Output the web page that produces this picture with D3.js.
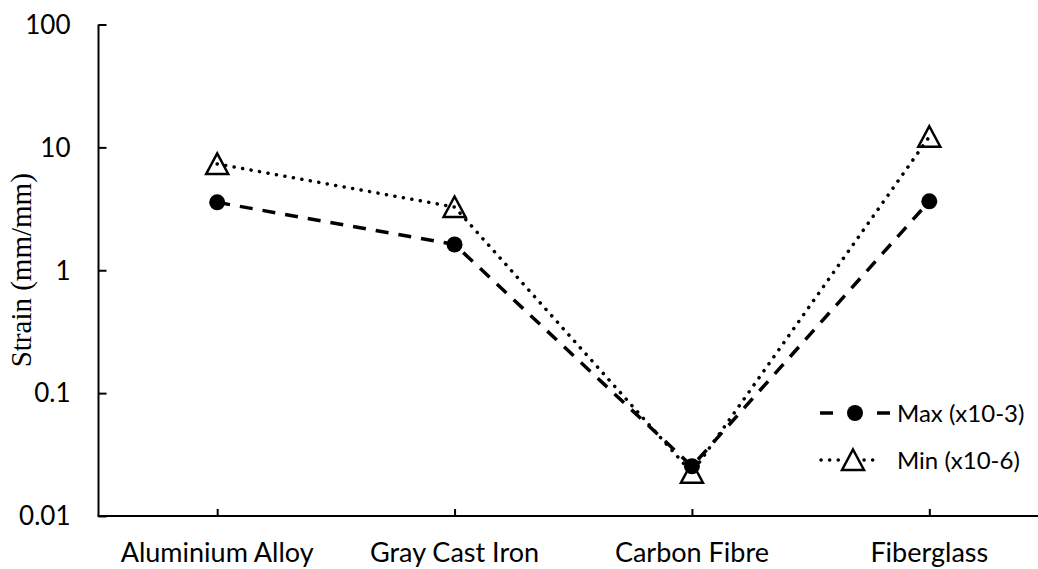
<!DOCTYPE html>
<html>
<head>
<meta charset="utf-8">
<script src="https://cdn.jsdelivr.net/npm/d3@7"></script>
<style>
  body { margin: 0; background: #fff; }
  svg text { font-family: Lato, "Open Sans", sans-serif; fill: #000; }
</style>
</head>
<body>
<svg id="chart"></svg>
<script>
// data
const materials = ['Aluminium Alloy', 'Gray Cast Iron', 'Carbon Fibre', 'Fiberglass'];
const maxStrain = [3.57, 1.62, 0.0254, 3.64];   // x10-3
const minStrain = [7.33, 3.27, 0.0225, 12.2];   // x10-6
const yTicks = [0.01, 0.1, 1, 10, 100];
const seriesNames = ['Max (x10-3)', 'Min (x10-6)'];

const width = 1038, height = 569;
const padding = {top: 24.5, right: -10, bottom: 53, left: 98.5};

const svg = d3.select('#chart')
    .attr('width', width)
    .attr('height', height);

const xScale = d3.scalePoint()
    .domain(materials)
    .range([padding.left, width - padding.right])
    .padding(0.5);

const yScale = d3.scaleLog()
    .domain([0.01, 100])
    .range([height - padding.bottom, padding.top]);

const fmt = d => d >= 1 ? d3.format('d')(d) : String(d);

// y axis: ticks pointing into the plot
const yAxis = d3.axisRight(yScale)
    .tickValues(yTicks)
    .tickSize(8)
    .tickFormat('');
const gy = svg.append('g')
    .attr('transform', `translate(${padding.left}, 0)`)
    .call(yAxis);
gy.select('.domain').attr('d', `M0,${yScale(100)}V${yScale(0.01)}`);
gy.selectAll('line, path').attr('stroke', '#000').attr('stroke-width', 2);

gy.selectAll('.lbl')
    .data(yTicks)
    .enter()
    .append('text')
    .attr('x', -28)
    .attr('y', d => yScale(d))
    .attr('dy', '0.36em')
    .attr('text-anchor', 'end')
    .style('font-size', '26px')
    .text(fmt);

// x axis: ticks pointing up
const xAxis = d3.axisTop(xScale).tickSize(7).tickFormat('');
const gx = svg.append('g')
    .attr('transform', `translate(0, ${height - padding.bottom})`)
    .call(xAxis);
gx.select('.domain').attr('d', `M${padding.left - 1},0H${width}`);
gx.selectAll('line, path').attr('stroke', '#000').attr('stroke-width', 2);

gx.selectAll('.lbl')
    .data(materials)
    .enter()
    .append('text')
    .attr('x', d => xScale(d))
    .attr('y', 46)
    .attr('text-anchor', 'middle')
    .style('font-size', '27px')
    .text(d => d);

// axis title, sized to its length in the picture
const title = svg.append('text')
    .attr('transform', `translate(31, ${(yScale(100) + yScale(0.01)) / 2}) rotate(-90)`)
    .attr('text-anchor', 'middle')
    .style('font-family', '"Liberation Serif", "DejaVu Serif", serif')
    .style('font-size', '20px')
    .text('Strain (mm/mm)');
const tl = title.node().getComputedTextLength();
if (tl > 0) title.style('font-size', (20 * 194 / tl).toFixed(1) + 'px');

const line = d3.line()
    .x((d, i) => xScale(materials[i]))
    .y(d => yScale(d));

function triPath(cx, cy) {
    const p = d3.path();
    p.moveTo(cx, cy - 10.5);
    p.lineTo(cx + 11, cy + 10);
    p.lineTo(cx - 11, cy + 10);
    p.closePath();
    return p.toString();
}

// min series (dotted, open triangles)
svg.append('path')
    .datum(minStrain)
    .attr('d', line)
    .attr('fill', 'none')
    .attr('stroke', '#000')
    .attr('stroke-width', 3.5)
    .attr('stroke-linecap', 'round')
    .attr('stroke-dasharray', '0.1,8.5');

svg.selectAll('.tri')
    .data(minStrain)
    .enter()
    .append('path')
    .attr('d', (d, i) => triPath(xScale(materials[i]), yScale(d)))
    .attr('fill', 'none')
    .attr('stroke', '#000')
    .attr('stroke-width', 2.5);

// max series (dashed, filled circles)
svg.append('path')
    .datum(maxStrain)
    .attr('d', line)
    .attr('fill', 'none')
    .attr('stroke', '#000')
    .attr('stroke-width', 3.5)
    .attr('stroke-dasharray', '13,10');

svg.selectAll('.dot')
    .data(maxStrain)
    .enter()
    .append('circle')
    .attr('cx', (d, i) => xScale(materials[i]))
    .attr('cy', d => yScale(d))
    .attr('r', 8)
    .attr('fill', '#000');

// legend
const legend = svg.append('g').attr('transform', 'translate(820, 413)');
const row0 = legend.append('g');
row0.append('line').attr('x1', 0).attr('x2', 13).attr('stroke', '#000').attr('stroke-width', 3.5);
row0.append('line').attr('x1', 57).attr('x2', 70).attr('stroke', '#000').attr('stroke-width', 3.5);
row0.append('circle').attr('cx', 35).attr('r', 8).attr('fill', '#000');
row0.append('text').attr('x', 77).attr('dy', '0.36em').style('font-size', '24px').text(seriesNames[0]);

const row1 = legend.append('g').attr('transform', 'translate(0, 47)');
row1.append('line').attr('x1', 1).attr('x2', 20)
    .attr('stroke', '#000').attr('stroke-width', 3.5)
    .attr('stroke-linecap', 'round').attr('stroke-dasharray', '0.1,8.5');
row1.append('line').attr('x1', 44).attr('x2', 56)
    .attr('stroke', '#000').attr('stroke-width', 3.5)
    .attr('stroke-linecap', 'round').attr('stroke-dasharray', '0.1,8.5');
row1.append('path').attr('d', triPath(33, 0)).attr('fill', 'none').attr('stroke', '#000').attr('stroke-width', 2.5);
row1.append('text').attr('x', 77).attr('dy', '0.36em').style('font-size', '24px').text(seriesNames[1]);
</script>
</body>
</html>
